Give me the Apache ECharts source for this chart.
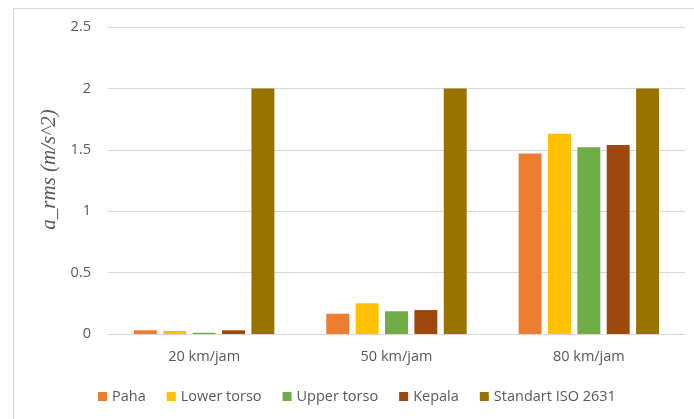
<!DOCTYPE html>
<html>
<head>
<meta charset="utf-8">
<script src="https://cdn.jsdelivr.net/npm/echarts@6/dist/echarts.min.js"></script>
<style>html,body{margin:0;padding:0;background:#fff}#c{width:694px;height:419px}</style>
</head>
<body>
<div id="c"></div>
<script>
const categories = ['20 km/jam', '50 km/jam', '80 km/jam'];
const seriesNames = ['Paha', 'Lower torso', 'Upper torso', 'Kepala', 'Standart ISO 2631'];
const paha = [0.03, 0.165, 1.47];
const lowerTorso = [0.025, 0.25, 1.63];
const upperTorso = [0.01, 0.185, 1.52];
const kepala = [0.03, 0.195, 1.54];
const standartISO = [2, 2, 2];
const colors = ['#ED7D31', '#FFC000', '#70AD47', '#9E480E', '#997300'];
const yTicks = { min: 0, max: 2.5, interval: 0.5 };

const values = [paha, lowerTorso, upperTorso, kepala, standartISO];
const chart = echarts.init(document.getElementById('c'));
const txt = '#595959';
chart.setOption({
  animation: false,
  graphic: [{
    type: 'rect', left: 11, top: 6, shape: { width: 700, height: 420 },
    style: { fill: 'none', stroke: '#d9d9d9', lineWidth: 1 }, silent: true
  }],
  grid: { left: 108, right: 9, top: 27, bottom: 85, containLabel: false },
  legend: {
    left: 93, top: 384, itemWidth: 9, itemHeight: 9, itemGap: 21,
    icon: 'rect',
    textStyle: { color: txt, fontSize: 14.5, fontFamily: 'Open Sans' },
    data: seriesNames
  },
  xAxis: {
    type: 'category', data: categories,
    axisLine: { lineStyle: { color: '#d9d9d9' } },
    axisTick: { show: false },
    axisLabel: { color: txt, fontSize: 14.5, fontFamily: 'Open Sans', margin: 15 }
  },
  yAxis: {
    type: 'value', min: yTicks.min, max: yTicks.max, interval: yTicks.interval,
    name: 'a_rms (m/s^2)', nameLocation: 'middle', nameGap: 48,
    nameTextStyle: { fontFamily: 'Liberation Serif', fontStyle: 'italic', fontSize: 21, color: txt, padding: [0, 0, 0, 22] },
    axisLine: { show: false }, axisTick: { show: false },
    axisLabel: { color: txt, fontSize: 14.5, fontFamily: 'Open Sans', margin: 17 },
    splitLine: { lineStyle: { color: '#d9d9d9' } }
  },
  series: seriesNames.map((n, i) => ({
    name: n, type: 'bar', data: values[i],
    itemStyle: { color: colors[i] },
    barGap: '28%', barCategoryGap: '27%'
  }))
});
</script>
</body>
</html>
